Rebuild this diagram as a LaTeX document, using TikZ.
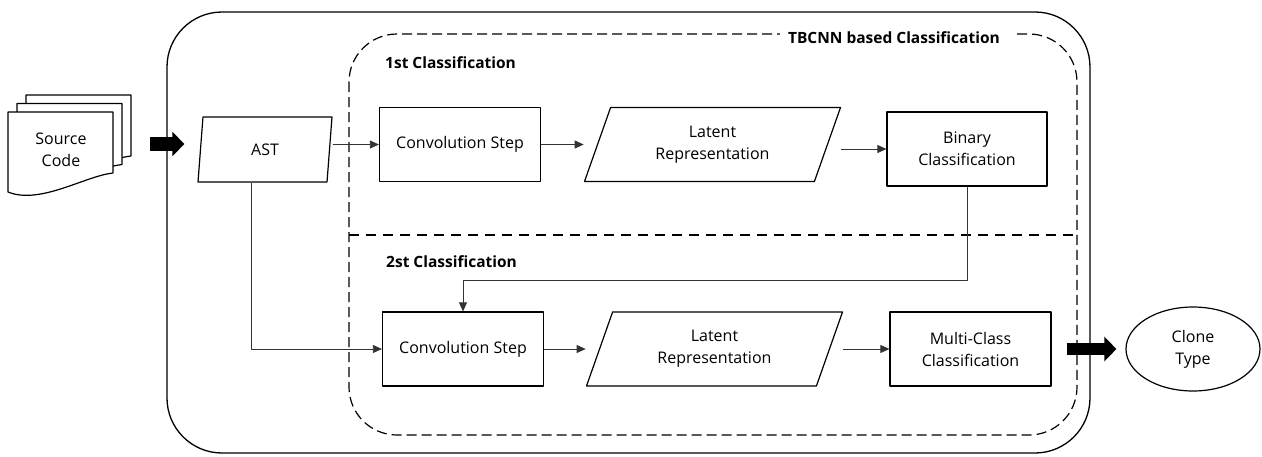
\documentclass[tikz,border=0pt]{standalone}
\usepackage{fontspec}
\setmainfont{Open Sans}
\usetikzlibrary{shapes.geometric,arrows.meta}

\begin{document}
\begin{tikzpicture}[x=1pt, y=-1pt, line join=round,
  every node/.style={font=\fontsize{16}{22}\selectfont, align=center},
  stepbox/.style={draw, line width=1.2pt, minimum width=161pt, minimum height=74pt, inner sep=0pt},
  databox/.style={draw, line width=1.2pt, trapezium, trapezium stretches body,
    trapezium left angle=55, trapezium right angle=125,
    minimum width=256pt, minimum height=74pt, inner sep=0pt},
  title/.style={font=\fontsize{15.5}{18}\selectfont\bfseries, anchor=west, inner sep=0pt},
  link/.style={draw=black!80, line width=0.8pt, -{Triangle[length=9pt,width=8pt]}},
  bigarrow/.style={line width=#1, -{Triangle[length=12pt,width=24pt]}}]
\useasboundingbox (0,0) rectangle (1262,456);

% stack of source files
\foreach \d in {2,1,0}
  \draw[line width=1.2pt, fill=white, shift={({9*\d},{-8.5*\d})}]
    (8,192) -- (8,112) -- (113,112) -- (113,173)
    .. controls (85,176) and (40,205) .. (8,192) -- cycle;
\node (src) at (61,150) {Source\\Code};

% frames
\draw[line width=1.3pt, rounded corners=55pt] (167,12) rectangle (1090,453);
\draw[line width=1.2pt, dash pattern=on 10pt off 5pt, rounded corners=48pt] (349,34) rectangle (1077,435);
\draw[line width=2pt, dash pattern=on 10pt off 7pt] (349,235) -- (1075,235);
\node[title, anchor=east, fill=white, inner xsep=8pt] (tbcnn) at (1008,38) {TBCNN based Classification};
\fill[white] (tbcnn.north east) rectangle ([xshift=9pt]tbcnn.south east);
\node[title] (first) at (385,63) {1st Classification};
\node[title] (second) at (386,262) {2st Classification};

\node[databox, trapezium left angle=67, trapezium right angle=113,
  minimum width=134pt, minimum height=65pt] (ast) at (265,149.5) {AST};

\node[stepbox] (conv1) at (460,144.5) {Convolution Step};
\node[databox] (lat1) at (712.5,144.5) {Latent\\Representation};
\node[stepbox, minimum width=160pt] (bin) at (967,149) {Binary\\Classification};

\node[stepbox] (conv2) at (463,349) {Convolution Step};
\node[databox] (lat2) at (714.5,349) {Latent\\Representation};
\node[stepbox] (multi) at (970.5,349) {Multi-Class\\Classification};

\node[ellipse, draw, line width=1.2pt, minimum width=134pt, minimum height=84pt, inner sep=0pt] (clone) at (1193,349) {Clone\\Type};

% connections
\coordinate (srcout) at (150,144);
\draw[bigarrow=14pt, shorten >=13pt] (srcout) -- (ast.bottom left corner |- srcout);
\draw[link] (ast.top right corner |- conv1.west) -- (conv1.west);
\draw[link] (conv1.east) -- (conv1.east -| lat1.bottom left corner);
\draw[link] (lat1.top right corner |- bin.west) -- (bin.west);
\draw[link] ([xshift=-13.5pt]ast.south) |- (conv2.west);
\draw[link] (bin.south) -- ++(0,94) -| (conv2.north);
\draw[link] (conv2.east) -- (conv2.east -| lat2.bottom left corner);
\draw[link] (lat2.top right corner |- multi.west) -- (multi.west);
\draw[bigarrow=12pt, shorten <=15pt, shorten >=9pt] (multi.east) -- (clone.west);

\end{tikzpicture}
\end{document}
